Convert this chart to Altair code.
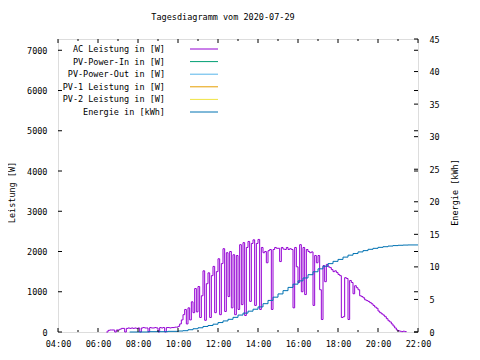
import altair as alt
import pandas as pd

TITLE = "Tagesdiagramm vom 2020-07-29"
FONT = "DejaVu Sans Mono"
FS = 8.5

# 5-minute sampling grid within each hour
minutes = [0, 5, 10, 15, 20, 25, 30, 35, 40, 45, 50, 55]

# AC Leistung [W], per hour (06 starts at 06:25, 21 ends at 21:25)
p06 = [0, 40, 50, 50, 50, 0, 50]
p07 = [50, 70, 90, 90, 0, 90, 100, 90, 100, 90, 100, 90]
p08 = [100, 0, 100, 110, 100, 100, 0, 110, 100, 100, 110, 100]
p09 = [0, 110, 100, 110, 0, 110, 110, 100, 110, 110, 120, 120]
p10 = [140, 200, 300, 430, 560, 200, 600, 300, 750, 480, 1080, 500]
p11 = [1130, 360, 900, 1520, 290, 1200, 1470, 360, 1400, 1630, 480, 1500]
p12 = [1820, 430, 1700, 2070, 510, 1970, 880, 2000, 600, 1920, 430, 1900]
p13 = [560, 2170, 680, 2220, 410, 2100, 2250, 760, 2200, 2290, 660, 2200]
p14 = [2300, 560, 2100, 1970, 2000, 1720, 2020, 2050, 560, 2050, 2100, 2080]
p15 = [2080, 1750, 2100, 2060, 2050, 2100, 2050, 2070, 2050, 600, 2100, 1620]
p16 = [1230, 2170, 1000, 2100, 930, 2050, 2000, 1970, 1990, 660, 1900, 1720]
p17 = [1900, 1050, 310, 1650, 1250, 1680, 1620, 1600, 1550, 1500, 1520, 1480]
p18 = [1430, 1400, 360, 380, 1350, 1330, 310, 1280, 1230, 950, 1150, 1100]
p19 = [1050, 900, 880, 850, 800, 780, 760, 730, 700, 660, 620, 590]
p20 = [520, 480, 450, 420, 380, 330, 280, 250, 200, 150, 100, 50]
p21 = [30, 20, 10, 20, 10, 0]

hour_blocks = [(6, p06), (7, p07), (8, p08), (9, p09), (10, p10), (11, p11),
               (12, p12), (13, p13), (14, p14), (15, p15), (16, p16),
               (17, p17), (18, p18), (19, p19), (20, p20), (21, p21)]

# Energie [kWh]
energy_times = ["07:35", "08:30", "09:30", "10:00", "10:15", "10:30", "10:45",
                "11:00", "11:15", "11:30", "11:45", "12:00", "12:15", "12:30",
                "12:45", "13:00", "13:15", "13:30", "13:45", "14:00", "14:15",
                "14:30", "14:45", "15:00", "15:15", "15:30", "15:45", "16:00",
                "16:15", "16:30", "16:45", "17:00", "17:15", "17:30", "17:45",
                "18:00", "18:15", "18:30", "18:45", "19:00", "19:15", "19:30",
                "19:45", "20:00", "20:15", "20:30", "20:45", "21:00", "21:15",
                "21:30", "22:00"]
energy_kwh = [0.0, 0.05, 0.1, 0.15, 0.2, 0.35, 0.5,
              0.65, 0.85, 1.0, 1.2, 1.45, 1.7, 1.95,
              2.25, 2.6, 2.9, 3.2, 3.5, 3.85, 4.35,
              4.85, 5.35, 5.85, 6.35, 6.85, 7.35, 7.85,
              8.3, 8.8, 9.25, 9.7, 10.1, 10.5, 10.85,
              11.15, 11.5, 11.8, 12.05, 12.3, 12.5, 12.7,
              12.85, 13.0, 13.1, 13.2, 13.27, 13.32, 13.35,
              13.37, 13.37]

legend_labels = ["AC Leistung in [W]", "PV-Power-In in [W]", "PV-Power-Out in [W]",
                 "PV-1 Leistung in [W]", "PV-2 Leistung in [W]", "Energie in [kWh]"]
legend_colors = ["#9400d3", "#009e73", "#56b4e9", "#e69f00", "#f0e442", "#0072b2"]

x_major = [4, 6, 8, 10, 12, 14, 16, 18, 20, 22]
x_minor = [5, 7, 9, 11, 13, 15, 17, 19, 21]
y_ticks = [0, 1000, 2000, 3000, 4000, 5000, 6000, 7000]
y2_ticks = [0, 5, 10, 15, 20, 25, 30, 35, 40, 45]

W, H = 360, 293
P_MAX = 7280
E_MAX = 45

rows = []
for h, vals in hour_blocks:
    mins = minutes[-len(vals):] if h == 6 else minutes[:len(vals)]
    for m, v in zip(mins, vals):
        rows.append({"t": h + m / 60.0, "p": v})
power_df = pd.DataFrame(rows)


def hhmm(s):
    a, b = s.split(":")
    return int(a) + int(b) / 60.0


energy_df = pd.DataFrame({"t": [hhmm(s) for s in energy_times], "e": energy_kwh})
legend_df = pd.DataFrame({"label": legend_labels, "color": legend_colors,
                          "i": list(range(len(legend_labels)))})

xscale = alt.Scale(domain=[4, 22], nice=False, zero=False)
pscale = alt.Scale(domain=[0, P_MAX], nice=False)
escale = alt.Scale(domain=[0, E_MAX], nice=False)

label_expr = "(datum.value < 10 ? '0' : '') + datum.value + ':00'"

axis_style = dict(labelFont=FONT, labelFontSize=FS, labelColor="black",
                  titleFont=FONT, titleFontSize=FS, titleColor="black",
                  titleFontWeight="normal", labelOverlap=False,
                  ticks=False, domain=False, grid=False)

x_axis = alt.Axis(values=x_major, labelExpr=label_expr, title=None,
                  labelPadding=7, labelBaseline="top", labelFlush=False,
                  **axis_style)

power = alt.Chart(power_df).mark_line(
    interpolate="step-after", color="#9400d3", strokeWidth=1
).encode(
    x=alt.X("t:Q", scale=xscale, axis=x_axis),
    y=alt.Y("p:Q", scale=pscale,
            axis=alt.Axis(orient="left", values=y_ticks, format="d",
                          title="Leistung [W]", titleAngle=270,
                          titleX=-47, titleY=153, titleAlign="center",
                          titleBaseline="middle", labelPadding=11,
                          **axis_style)),
)

energy = alt.Chart(energy_df).mark_line(
    interpolate="step-after", color="#0072b2", strokeWidth=1
).encode(
    x=alt.X("t:Q", scale=xscale, axis=x_axis),
    y=alt.Y("e:Q", scale=escale,
            axis=alt.Axis(orient="right", values=y2_ticks, format="d",
                          title="Energie [kWh]", titleAngle=270,
                          titleX=36, titleY=153, titleAlign="center",
                          titleBaseline="middle", labelPadding=11,
                          **axis_style)),
)

# inward ticks (gnuplot style)
xmaj_df = pd.DataFrame({"t": x_major})
xmin_df = pd.DataFrame({"t": x_minor})
xt_bot = alt.Chart(xmaj_df).mark_rule(color="black", strokeWidth=1).encode(
    x=alt.X("t:Q", scale=xscale, axis=x_axis), y=alt.value(H), y2=alt.value(H - 4))
xt_top = alt.Chart(xmaj_df).mark_rule(color="black", strokeWidth=1).encode(
    x=alt.X("t:Q", scale=xscale, axis=x_axis), y=alt.value(0), y2=alt.value(4))
xm_bot = alt.Chart(xmin_df).mark_rule(color="black", strokeWidth=1).encode(
    x=alt.X("t:Q", scale=xscale, axis=x_axis), y=alt.value(H), y2=alt.value(H - 2))
xm_top = alt.Chart(xmin_df).mark_rule(color="black", strokeWidth=1).encode(
    x=alt.X("t:Q", scale=xscale, axis=x_axis), y=alt.value(0), y2=alt.value(2))

yt_df = pd.DataFrame({"v": y_ticks})
y2t_df = pd.DataFrame({"v": y2_ticks})
yt_left = alt.Chart(yt_df).mark_rule(color="black", strokeWidth=1).encode(
    y=alt.Y("v:Q", scale=pscale, axis=None), x=alt.value(0), x2=alt.value(4))
yt_right = alt.Chart(yt_df).mark_rule(color="black", strokeWidth=1).encode(
    y=alt.Y("v:Q", scale=pscale, axis=None), x=alt.value(W - 4), x2=alt.value(W))
y2t_right = alt.Chart(y2t_df).mark_rule(color="black", strokeWidth=1).encode(
    y=alt.Y("v:Q", scale=escale, axis=None), x=alt.value(W - 4), x2=alt.value(W))

# legend drawn inside the plot (labels left of the line samples)
leg_base = alt.Chart(legend_df).transform_calculate(py="10 + datum.i * 12.6")
leg_text = leg_base.mark_text(align="right", baseline="middle", font=FONT,
                              fontSize=FS, color="black").encode(
    x=alt.value(107), y=alt.Y("py:Q", scale=None, axis=None), text="label:N")
leg_line = leg_base.mark_rule(strokeWidth=1).encode(
    x=alt.value(132), x2=alt.value(160),
    y=alt.Y("py:Q", scale=None, axis=None),
    color=alt.Color("color:N", scale=None, legend=None))

# chart title as a text mark above the plot
title_df = pd.DataFrame({"title": [TITLE]})
title_mark = alt.Chart(title_df).mark_text(
    align="center", baseline="alphabetic", font=FONT, fontSize=FS, color="black"
).encode(x=alt.value(165), y=alt.value(-19), text="title:N")

chart = alt.layer(
    power, energy, xt_bot, xt_top, xm_bot, xm_top, yt_left, yt_right, y2t_right,
    leg_text, leg_line, title_mark
).resolve_scale(y="independent").properties(
    width=W, height=H,
    autosize=alt.AutoSizeParams(type="none"),
    padding={"left": 50, "top": 31, "right": 54, "bottom": 20},
).configure_view(
    stroke="black", strokeWidth=1
).configure_axis(
    labelOverlap=False
).configure(background="white")

chart.save("out.html", embed_options={"renderer": "svg", "actions": False})
